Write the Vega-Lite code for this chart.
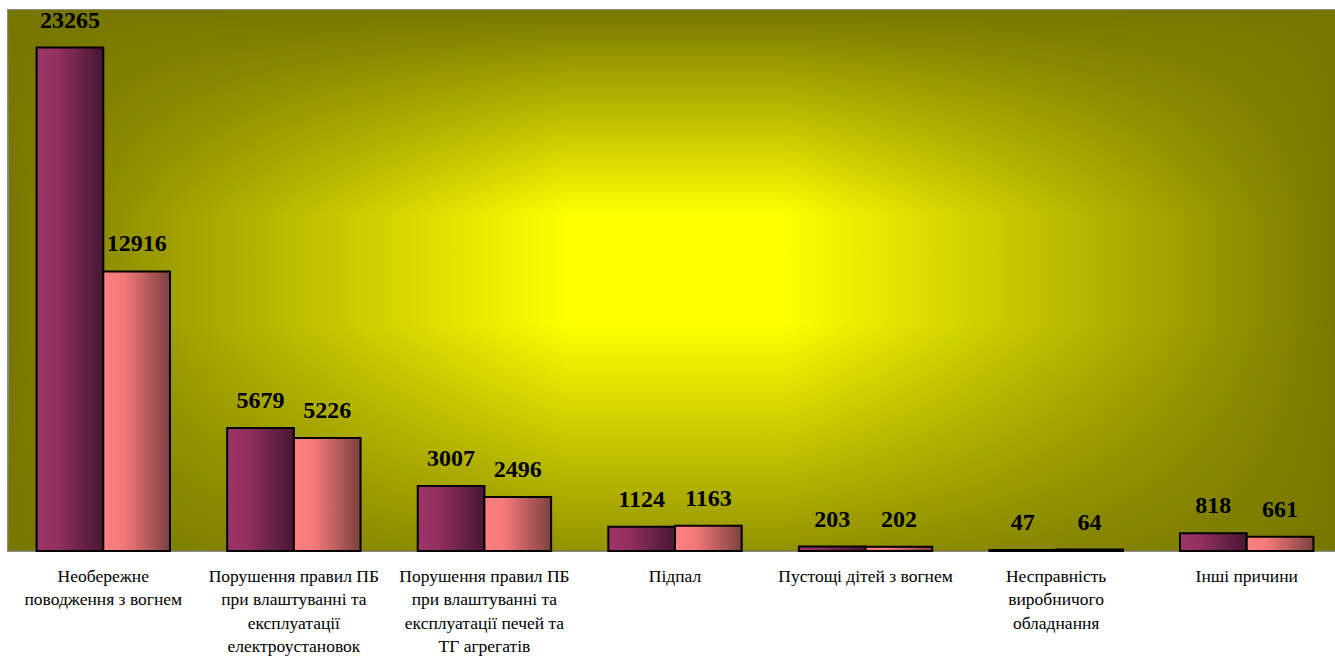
{
  "$schema": "https://vega.github.io/schema/vega-lite/v6.json",
  "autosize": {"type": "none"},
  "padding": {"left": 8, "top": 10, "right": 0, "bottom": 106},
  "width": 1334,
  "height": 541,
  "background": "white",
  "config": {
    "view": {
      "stroke": "#8c8c8c",
      "strokeWidth": 2,
      "fill": {"gradient": "linear", "x1": 0, "y1": 0, "x2": 1, "y2": 0,
        "stops": [{"offset": 0, "color": "#777700"}, {"offset": 0.42, "color": "#ffff00"}, {"offset": 0.58, "color": "#ffff00"}, {"offset": 1, "color": "#777700"}]}
    }
  },
  "layer": [
    {
      "data": {"values": [{"from": 0, "to": 25000}]},
      "mark": {"type": "rect",
        "fill": {"gradient": "linear", "x1": 0, "y1": 0, "x2": 0, "y2": 1,
          "stops": [{"offset": 0, "color": "rgba(119,119,0,1)"}, {"offset": 0.38, "color": "rgba(119,119,0,0)"}, {"offset": 0.58, "color": "rgba(119,119,0,0)"}, {"offset": 1, "color": "rgba(119,119,0,0.8)"}]}},
      "encoding": {
        "y": {"field": "from", "type": "quantitative", "scale": {"domain": [0, 25000]}, "axis": null},
        "y2": {"field": "to"}
      }
    },
    {
      "data": {
        "values": [
          {"cause": "Необережне\nповодження з вогнем", "series": "A", "value": 23265},
          {"cause": "Необережне\nповодження з вогнем", "series": "B", "value": 12916},
          {"cause": "Порушення правил ПБ\nпри влаштуванні та\nексплуатації\nелектроустановок", "series": "A", "value": 5679},
          {"cause": "Порушення правил ПБ\nпри влаштуванні та\nексплуатації\nелектроустановок", "series": "B", "value": 5226},
          {"cause": "Порушення правил ПБ\nпри влаштуванні та\nексплуатації печей та\nТГ агрегатів", "series": "A", "value": 3007},
          {"cause": "Порушення правил ПБ\nпри влаштуванні та\nексплуатації печей та\nТГ агрегатів", "series": "B", "value": 2496},
          {"cause": "Підпал", "series": "A", "value": 1124},
          {"cause": "Підпал", "series": "B", "value": 1163},
          {"cause": "Пустощі дітей з вогнем", "series": "A", "value": 203},
          {"cause": "Пустощі дітей з вогнем", "series": "B", "value": 202},
          {"cause": "Несправність\nвиробничого\nобладнання", "series": "A", "value": 47},
          {"cause": "Несправність\nвиробничого\nобладнання", "series": "B", "value": 64},
          {"cause": "Інші причини", "series": "A", "value": 818},
          {"cause": "Інші причини", "series": "B", "value": 661}
        ]
      },
      "encoding": {
        "x": {
          "field": "cause", "type": "nominal", "sort": null,
          "scale": {"paddingInner": 0.3, "paddingOuter": 0.15},
          "axis": {
            "title": null, "domain": false, "ticks": false, "labelAngle": 0,
            "labelFont": "'Liberation Serif', 'Times New Roman', 'DejaVu Serif', serif", "labelFontSize": 17.5, "labelColor": "black",
            "labelLineHeight": 23.5, "labelPadding": 16, "labelLimit": 400,
            "labelExpr": "split(datum.label, '\\n')"
          }
        },
        "xOffset": {"field": "series", "type": "nominal", "sort": ["A", "B"]},
        "y": {"field": "value", "type": "quantitative", "scale": {"domain": [0, 25000]}, "axis": null}
      },
      "layer": [
        {
          "transform": [{"filter": "datum.series === 'A'"}],
          "mark": {"type": "bar", "stroke": "black", "strokeWidth": 2,
            "fill": {"gradient": "linear", "x1": 0, "y1": 0, "x2": 1, "y2": 0,
              "stops": [{"offset": 0, "color": "#9e3468"}, {"offset": 0.3, "color": "#923061"}, {"offset": 1, "color": "#481732"}]}}
        },
        {
          "transform": [{"filter": "datum.series === 'B'"}],
          "mark": {"type": "bar", "stroke": "black", "strokeWidth": 2,
            "fill": {"gradient": "linear", "x1": 0, "y1": 0, "x2": 1, "y2": 0,
              "stops": [{"offset": 0, "color": "#ff8080"}, {"offset": 0.3, "color": "#f47a7a"}, {"offset": 1, "color": "#7c4040"}]}}
        },
        {
          "mark": {"type": "text", "baseline": "bottom", "dy": -15, "font": "Liberation Serif", "fontWeight": "bold", "fontSize": 24, "color": "black"},
          "encoding": {"text": {"field": "value", "type": "quantitative", "format": "d"}}
        }
      ]
    }
  ]
}
